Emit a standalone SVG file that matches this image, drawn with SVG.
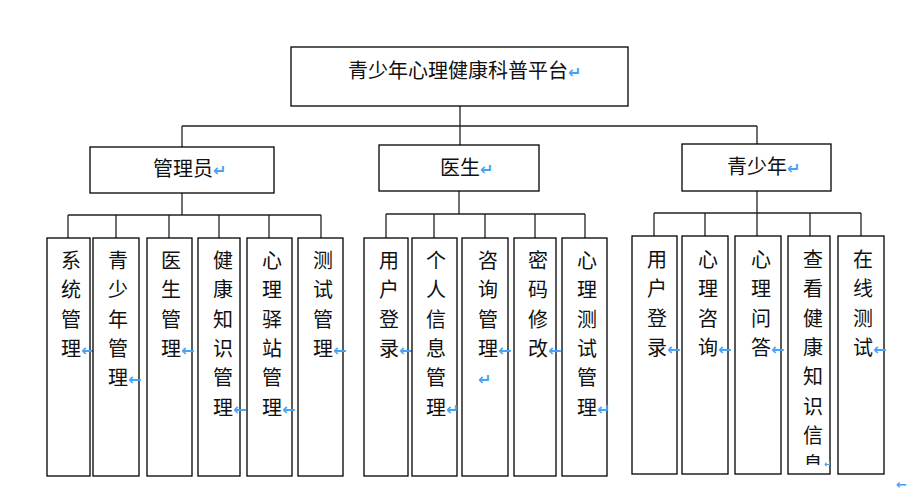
<svg xmlns="http://www.w3.org/2000/svg" width="912" height="497" viewBox="0 0 912 497">
<style>
.box{fill:#fff;stroke:#000;stroke-width:1.3}
.ln{stroke:#222;stroke-width:1.3;fill:none}
text{font-family:"Noto Sans CJK SC","Noto Sans",sans-serif;font-size:20px;fill:#111}
.ar{fill:#46a2f3;font-size:16px;font-family:"DejaVu Sans",sans-serif;font-weight:bold}
</style>
<defs>
<clipPath id="c13"><rect x="788" y="236" width="42" height="229"/></clipPath>
</defs>
<g id="connectors">
<path class="ln" d="M460 106V126M182 126H757M182 126V147M460 126V145M757 126V144"/>
<path class="ln" d="M182 193V215M68 215H321M68 215V238M116 215V238M169 215V238M219 215V238M269 215V238M321 215V238"/>
<path class="ln" d="M459 191V214M386 214H585M386 214V238M434 214V238M485 214V238M535 214V238M585 214V238"/>
<path class="ln" d="M757 191V213M654 213H861M654 213V236M705 213V236M757 213V236M810 213V236M861 213V236"/>
</g>
<g id="root"><rect class="box" x="291" y="47" width="337" height="59"/><text x="348" y="78">青少年心理健康科普平台<tspan class="ar">↵</tspan></text></g>
<g id="admin"><rect class="box" x="90" y="147" width="184" height="46"/><text x="153" y="176">管理员<tspan class="ar">↵</tspan></text></g>
<g id="doctor"><rect class="box" x="379" y="145" width="160" height="46"/><text x="440" y="175">医生<tspan class="ar">↵</tspan></text></g>
<g id="teen"><rect class="box" x="682" y="144" width="149" height="47"/><text x="727" y="174">青少年<tspan class="ar">↵</tspan></text></g>

<g id="a1"><rect class="box" x="47" y="238" width="43" height="238"/><text><tspan x="61" y="268">系</tspan><tspan x="61" dy="29.3">统</tspan><tspan x="61" dy="29.3">管</tspan><tspan x="61" dy="29.3">理</tspan><tspan class="ar">←</tspan></text></g>
<g id="a2"><rect class="box" x="93" y="238" width="46" height="238"/><text><tspan x="108" y="268">青</tspan><tspan x="108" dy="29.3">少</tspan><tspan x="108" dy="29.3">年</tspan><tspan x="108" dy="29.3">管</tspan><tspan x="108" dy="29.3">理</tspan><tspan class="ar">←</tspan></text></g>
<g id="a3"><rect class="box" x="147" y="238" width="45" height="238"/><text><tspan x="161" y="268">医</tspan><tspan x="161" dy="29.3">生</tspan><tspan x="161" dy="29.3">管</tspan><tspan x="161" dy="29.3">理</tspan><tspan class="ar">←</tspan></text></g>
<g id="a4"><rect class="box" x="198" y="238" width="42" height="238"/><text><tspan x="213" y="268">健</tspan><tspan x="213" dy="29.3">康</tspan><tspan x="213" dy="29.3">知</tspan><tspan x="213" dy="29.3">识</tspan><tspan x="213" dy="29.3">管</tspan><tspan x="213" dy="29.3">理</tspan><tspan class="ar">←</tspan></text></g>
<g id="a5"><rect class="box" x="247" y="238" width="45" height="238"/><text><tspan x="262" y="268">心</tspan><tspan x="262" dy="29.3">理</tspan><tspan x="262" dy="29.3">驿</tspan><tspan x="262" dy="29.3">站</tspan><tspan x="262" dy="29.3">管</tspan><tspan x="262" dy="29.3">理</tspan><tspan class="ar">←</tspan></text></g>
<g id="a6"><rect class="box" x="298" y="238" width="45" height="238"/><text><tspan x="313" y="268">测</tspan><tspan x="313" dy="29.3">试</tspan><tspan x="313" dy="29.3">管</tspan><tspan x="313" dy="29.3">理</tspan><tspan class="ar">←</tspan></text></g>

<g id="d1"><rect class="box" x="364" y="238" width="44" height="238"/><text><tspan x="379" y="268">用</tspan><tspan x="379" dy="29.3">户</tspan><tspan x="379" dy="29.3">登</tspan><tspan x="379" dy="29.3">录</tspan><tspan class="ar">←</tspan></text></g>
<g id="d2"><rect class="box" x="412" y="238" width="45" height="238"/><text><tspan x="426" y="268">个</tspan><tspan x="426" dy="29.3">人</tspan><tspan x="426" dy="29.3">信</tspan><tspan x="426" dy="29.3">息</tspan><tspan x="426" dy="29.3">管</tspan><tspan x="426" dy="29.3">理</tspan><tspan class="ar">↵</tspan></text></g>
<g id="d3"><rect class="box" x="462" y="238" width="46" height="238"/><text><tspan x="478" y="268">咨</tspan><tspan x="478" dy="29.3">询</tspan><tspan x="478" dy="29.3">管</tspan><tspan x="478" dy="29.3">理</tspan><tspan class="ar">←</tspan><tspan class="ar" x="478" dy="29.3">↵</tspan></text></g>
<g id="d4"><rect class="box" x="514" y="238" width="42" height="238"/><text><tspan x="528" y="268">密</tspan><tspan x="528" dy="29.3">码</tspan><tspan x="528" dy="29.3">修</tspan><tspan x="528" dy="29.3">改</tspan><tspan class="ar">←</tspan></text></g>
<g id="d5"><rect class="box" x="562" y="238" width="45" height="238"/><text><tspan x="577" y="268">心</tspan><tspan x="577" dy="29.3">理</tspan><tspan x="577" dy="29.3">测</tspan><tspan x="577" dy="29.3">试</tspan><tspan x="577" dy="29.3">管</tspan><tspan x="577" dy="29.3">理</tspan><tspan class="ar">↵</tspan></text></g>

<g id="t1"><rect class="box" x="632" y="236" width="45" height="238"/><text><tspan x="647" y="267">用</tspan><tspan x="647" dy="29.3">户</tspan><tspan x="647" dy="29.3">登</tspan><tspan x="647" dy="29.3">录</tspan><tspan class="ar">←</tspan></text></g>
<g id="t2"><rect class="box" x="682" y="236" width="46" height="238"/><text><tspan x="698" y="267">心</tspan><tspan x="698" dy="29.3">理</tspan><tspan x="698" dy="29.3">咨</tspan><tspan x="698" dy="29.3">询</tspan><tspan class="ar">←</tspan></text></g>
<g id="t3"><rect class="box" x="735" y="236" width="46" height="238"/><text><tspan x="751" y="267">心</tspan><tspan x="751" dy="29.3">理</tspan><tspan x="751" dy="29.3">问</tspan><tspan x="751" dy="29.3">答</tspan><tspan class="ar">←</tspan></text></g>
<g id="t4"><rect class="box" x="788" y="236" width="42" height="238"/><text clip-path="url(#c13)"><tspan x="803" y="267">查</tspan><tspan x="803" dy="29.3">看</tspan><tspan x="803" dy="29.3">健</tspan><tspan x="803" dy="29.3">康</tspan><tspan x="803" dy="29.3">知</tspan><tspan x="803" dy="29.3">识</tspan><tspan x="803" dy="29.3">信</tspan><tspan x="803" dy="29.3">息</tspan></text><text class="ar" x="824" y="467" style="font-size:9px">↵</text></g>
<g id="t5"><rect class="box" x="838" y="236" width="46" height="238"/><text><tspan x="853" y="267">在</tspan><tspan x="853" dy="29.3">线</tspan><tspan x="853" dy="29.3">测</tspan><tspan x="853" dy="29.3">试</tspan><tspan class="ar">←</tspan></text></g>
<text class="ar" x="896" y="489" style="font-size:13px">←</text>
</svg>
